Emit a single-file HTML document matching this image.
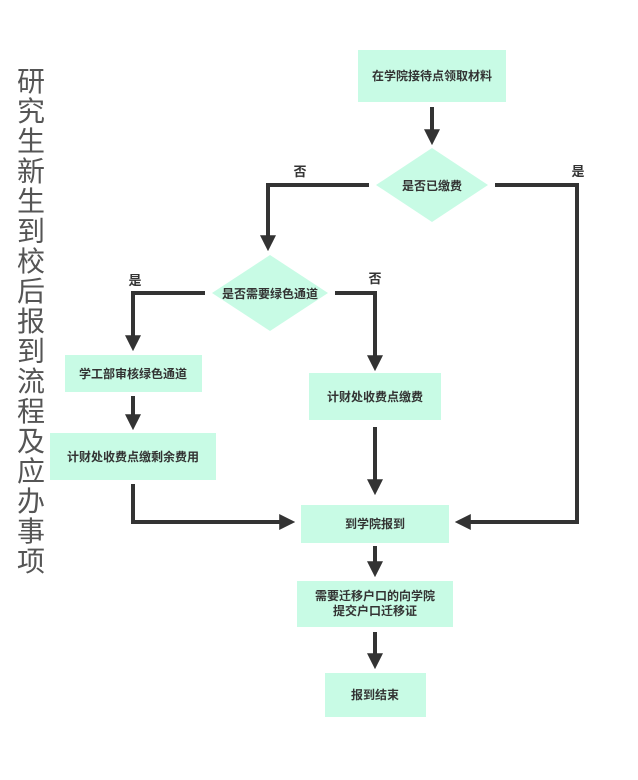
<!DOCTYPE html>
<html><head><meta charset="utf-8">
<style>
html,body{margin:0;padding:0;background:#fff;}
svg{display:block;}
.t{font-family:"Liberation Sans","Noto Sans CJK SC",sans-serif;font-weight:bold;font-size:12px;fill:#333;text-anchor:middle;}
.l{font-family:"Liberation Sans","Noto Sans CJK SC",sans-serif;font-weight:bold;font-size:13px;fill:#333;text-anchor:middle;}
.ttl{font-family:"Liberation Sans","Noto Sans CJK SC",sans-serif;font-size:28px;fill:#555;text-anchor:middle;}
</style></head><body>
<svg width="638" height="780" viewBox="0 0 638 780" xmlns="http://www.w3.org/2000/svg">
<defs>
<marker id="a" markerWidth="4" markerHeight="4" refX="2.2" refY="2" orient="auto" markerUnits="strokeWidth">
<path d="M0,0 L4,2 L0,4 Z" fill="#333"/></marker>
</defs>
<g fill="#c8fbe5">
<rect x="358" y="50" width="148" height="52"/>
<polygon points="432,148 488,185 432,222 376,185"/>
<polygon points="270,255 328,293 270,331 212,293"/>
<rect x="65" y="355" width="137" height="37"/>
<rect x="50" y="433" width="166" height="47"/>
<rect x="309" y="373" width="132" height="47"/>
<rect x="301" y="505" width="148" height="38"/>
<rect x="297" y="581" width="156" height="46"/>
<rect x="325" y="673" width="101" height="44"/>
</g>
<g stroke="#333" stroke-width="4" fill="none" stroke-linejoin="miter">
<path d="M432,107 L432,138" marker-end="url(#a)"/>
<path d="M369,185 L268,185 L268,244" marker-end="url(#a)"/>
<path d="M495,185 L577,185 L577,522 L462,522" marker-end="url(#a)"/>
<path d="M205,293 L133,293 L133,344" marker-end="url(#a)"/>
<path d="M335,293 L375,293 L375,364" marker-end="url(#a)"/>
<path d="M133,396 L133,423" marker-end="url(#a)"/>
<path d="M133,484 L133,522 L288,522" marker-end="url(#a)"/>
<path d="M375,427 L375,488" marker-end="url(#a)"/>
<path d="M375,546 L375,570" marker-end="url(#a)"/>
<path d="M375,632 L375,662" marker-end="url(#a)"/>
</g>
<text class="t" x="432" y="80">在学院接待点领取材料</text>
<text class="t" x="432" y="190">是否已缴费</text>
<text class="t" x="270" y="298">是否需要绿色通道</text>
<text class="t" x="133" y="378">学工部审核绿色通道</text>
<text class="t" x="133" y="461">计财处收费点缴剩余费用</text>
<text class="t" x="375" y="401">计财处收费点缴费</text>
<text class="t" x="375" y="528">到学院报到</text>
<text class="t" x="375" y="600">需要迁移户口的向学院</text>
<text class="t" x="375" y="615">提交户口迁移证</text>
<text class="t" x="375" y="699">报到结束</text>
<text class="l" x="300" y="176">否</text>
<text class="l" x="578" y="176">是</text>
<text class="l" x="135" y="285">是</text>
<text class="l" x="375" y="283">否</text>
<g class="ttl">
<text x="31" y="91">研</text><text x="31" y="121">究</text><text x="31" y="151">生</text>
<text x="31" y="181">新</text><text x="31" y="211">生</text><text x="31" y="241">到</text>
<text x="31" y="271">校</text><text x="31" y="301">后</text><text x="31" y="331">报</text>
<text x="31" y="361">到</text><text x="31" y="391">流</text><text x="31" y="421">程</text>
<text x="31" y="451">及</text><text x="31" y="481">应</text><text x="31" y="511">办</text>
<text x="31" y="541">事</text><text x="31" y="571">项</text>
</g>
</svg>
</body></html>
